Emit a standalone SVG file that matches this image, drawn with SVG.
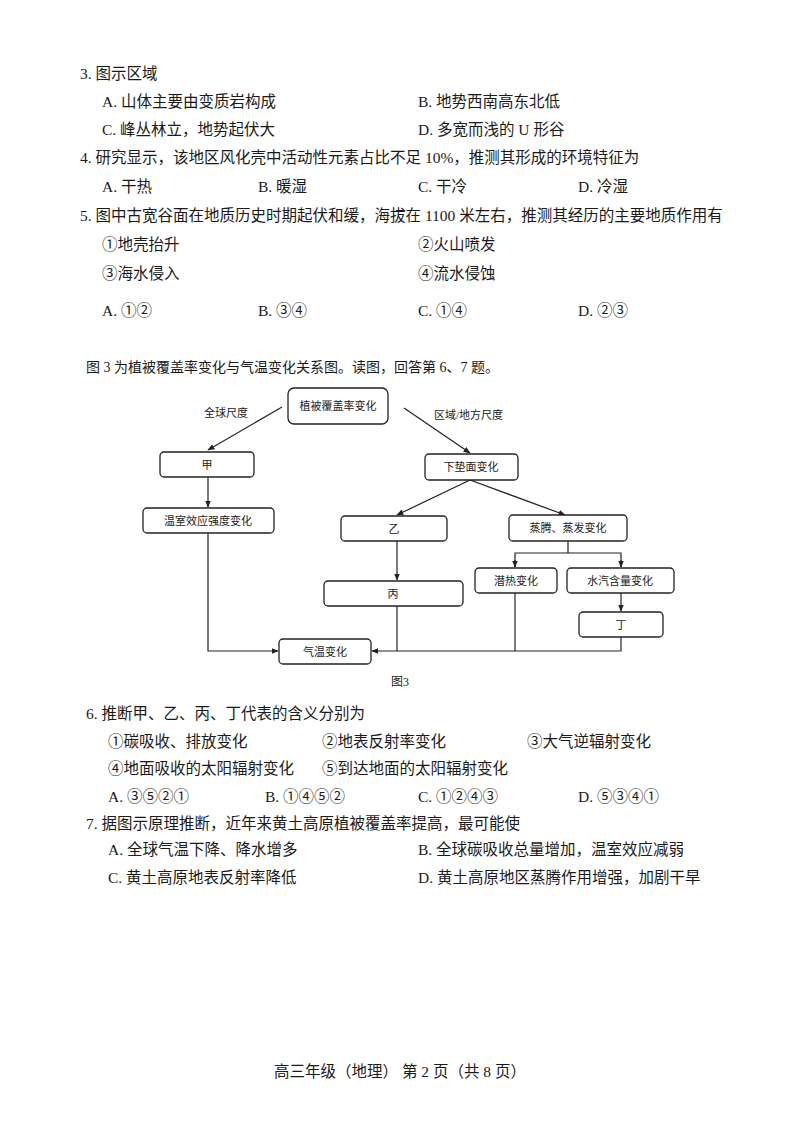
<svg xmlns="http://www.w3.org/2000/svg" width="800" height="1132" viewBox="0 0 800 1132">
<defs>
<style>
text{font-family:"Liberation Serif","Noto Sans CJK SC",serif;fill:#1a1a1a}
.q{font-size:15.5px}
.n rect{fill:#fff;stroke:#222;stroke-width:1.3}
.n text{font-size:11px;text-anchor:middle}
.c line,.c polyline{stroke:#222;stroke-width:1.2;fill:none}
.lb{font-size:11px}
</style>
<marker id="a" viewBox="0 0 10 10" refX="9" refY="5" markerWidth="6" markerHeight="6" orient="auto"><path d="M0,1 L10,5 L0,9 z" fill="#222"/></marker>
</defs>
<rect width="800" height="1132" fill="#fff"/>
<g class="q">
<text x="80" y="79">3. 图示区域</text>
<text x="102" y="107">A. 山体主要由变质岩构成</text><text x="418" y="107">B. 地势西南高东北低</text>
<text x="102" y="135">C. 峰丛林立，地势起伏大</text><text x="418" y="135">D. 多宽而浅的 U 形谷</text>
<text x="80" y="163">4. 研究显示，该地区风化壳中活动性元素占比不足 10%，推测其形成的环境特征为</text>
<text x="102" y="192">A. 干热</text><text x="258" y="192">B. 暖湿</text><text x="418" y="192">C. 干冷</text><text x="578" y="192">D. 冷湿</text>
<text x="80" y="221">5. 图中古宽谷面在地质历史时期起伏和缓，海拔在 1100 米左右，推测其经历的主要地质作用有</text>
<text x="102" y="250">①地壳抬升</text><text x="418" y="250">②火山喷发</text>
<text x="102" y="279">③海水侵入</text><text x="418" y="279">④流水侵蚀</text>
<text x="102" y="316">A. ①②</text><text x="258" y="316">B. ③④</text><text x="418" y="316">C. ①④</text><text x="578" y="316">D. ②③</text>
<text x="86" y="372" style="font-size:14px">图 3 为植被覆盖率变化与气温变化关系图。读图，回答第 6、7 题。</text>
<text x="400" y="686" text-anchor="middle" style="font-size:12px">图3</text>
<text x="86" y="719">6. 推断甲、乙、丙、丁代表的含义分别为</text>
<text x="108" y="747">①碳吸收、排放变化</text><text x="322" y="747">②地表反射率变化</text><text x="527" y="747">③大气逆辐射变化</text>
<text x="108" y="774">④地面吸收的太阳辐射变化</text><text x="322" y="774">⑤到达地面的太阳辐射变化</text>
<text x="108" y="802">A. ③⑤②①</text><text x="265" y="802">B. ①④⑤②</text><text x="418" y="802">C. ①②④③</text><text x="578" y="802">D. ⑤③④①</text>
<text x="86" y="829">7. 据图示原理推断，近年来黄土高原植被覆盖率提高，最可能使</text>
<text x="108" y="855">A. 全球气温下降、降水增多</text><text x="418" y="855">B. 全球碳吸收总量增加，温室效应减弱</text>
<text x="108" y="883">C. 黄土高原地表反射率降低</text><text x="418" y="883">D. 黄土高原地区蒸腾作用增强，加剧干旱</text>
<text x="400" y="1077" text-anchor="middle">高三年级（地理） 第 2 页（共 8 页）</text>
</g>
<text class="lb" x="204" y="417">全球尺度</text>
<text class="lb" x="434" y="419">区域/地方尺度</text>
<g class="c">
<line x1="282" y1="407" x2="208" y2="450" marker-end="url(#a)"/>
<line x1="404" y1="408" x2="470" y2="453" marker-end="url(#a)"/>
<line x1="208" y1="477" x2="208" y2="507" marker-end="url(#a)"/>
<line x1="470" y1="480" x2="397" y2="515" marker-end="url(#a)"/>
<line x1="470" y1="480" x2="565" y2="515" marker-end="url(#a)"/>
<line x1="397" y1="541" x2="397" y2="580" marker-end="url(#a)"/>
<line x1="568" y1="541" x2="568" y2="553"/>
<polyline points="515,567 515,553 621,553 621,567"/>
<line x1="515" y1="560" x2="515" y2="567" marker-end="url(#a)"/>
<line x1="621" y1="560" x2="621" y2="567" marker-end="url(#a)"/>
<line x1="621" y1="593" x2="621" y2="611" marker-end="url(#a)"/>
<polyline points="208,533 208,651 278,651" marker-end="url(#a)"/>
<polyline points="621,637 621,651 372,651" marker-end="url(#a)"/>
<line x1="397" y1="606" x2="397" y2="651"/>
<line x1="515" y1="593" x2="515" y2="651"/>
</g>
<g id="top" class="n"><rect x="288" y="388" width="100" height="36" rx="6"/><text x="338" y="410">植被覆盖率变化</text></g>
<g id="jia" class="n"><rect x="160" y="452" width="94" height="25" rx="4"/><text x="207" y="469">甲</text></g>
<g id="xdm" class="n"><rect x="425" y="454" width="93" height="26" rx="4"/><text x="471" y="471">下垫面变化</text></g>
<g id="wenshi" class="n"><rect x="143" y="508" width="131" height="25" rx="4"/><text x="208" y="525">温室效应强度变化</text></g>
<g id="yi" class="n"><rect x="341" y="516" width="106" height="25" rx="4"/><text x="394" y="533">乙</text></g>
<g id="zhengteng" class="n"><rect x="509" y="515" width="118" height="26" rx="4"/><text x="568" y="532">蒸腾、蒸发变化</text></g>
<g id="qianre" class="n"><rect x="475" y="568" width="82" height="25" rx="4"/><text x="516" y="585">潜热变化</text></g>
<g id="shuiqi" class="n"><rect x="567" y="568" width="107" height="25" rx="4"/><text x="620" y="585">水汽含量变化</text></g>
<g id="bing" class="n"><rect x="324" y="581" width="139" height="25" rx="4"/><text x="393" y="598">丙</text></g>
<g id="ding" class="n"><rect x="579" y="612" width="84" height="25" rx="4"/><text x="621" y="629">丁</text></g>
<g id="qiwen" class="n"><rect x="279" y="639" width="92" height="25" rx="4"/><text x="325" y="656">气温变化</text></g>
</svg>
